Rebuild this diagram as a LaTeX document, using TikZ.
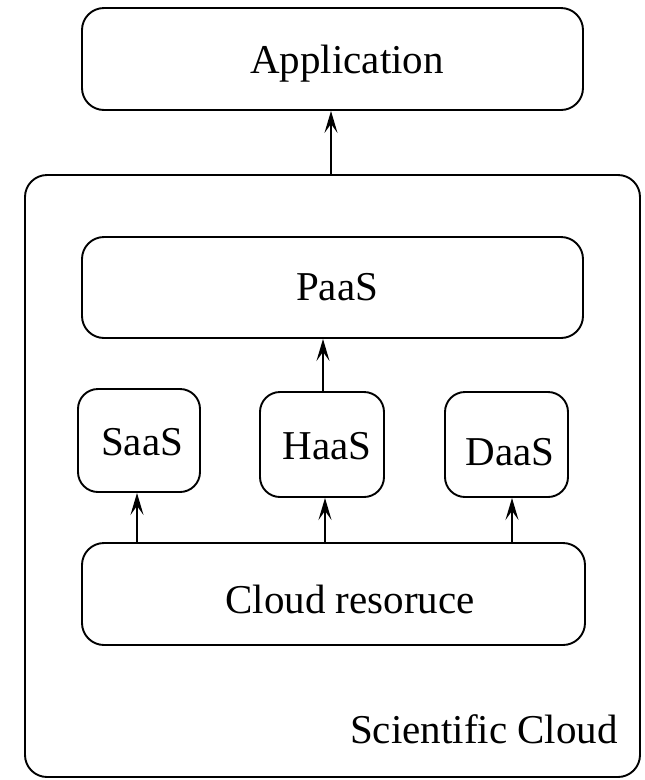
\documentclass[tikz,border=0pt]{standalone}
\usepackage{fontspec}
\setmainfont{Liberation Serif}
\usetikzlibrary{arrows.meta}
\begin{document}
\begin{tikzpicture}[x=1pt,y=-1pt,
  box/.style={draw,line width=1.9pt,rounded corners=22pt,inner sep=0pt},
  lbl/.style={font=\fontsize{41}{41}\selectfont,anchor=base,inner sep=0pt},
  arr/.style={line width=1.9pt,-{Stealth[length=22pt,width=13pt,inset=9pt]}}]
\useasboundingbox (0,0) rectangle (645,780);
\node[box,minimum width=501pt,minimum height=102pt] (app) at (332.5,59) {};
\node[box,minimum width=615pt,minimum height=602pt] (sci) at (332.5,476) {};
\node[box,minimum width=501pt,minimum height=101pt] (paas) at (332.5,287.5) {};
\node[box,rounded corners=20pt,minimum width=122pt,minimum height=103pt] (saas) at (139,440.5) {};
\node[box,rounded corners=20pt,minimum width=124pt,minimum height=105pt] (haas) at (322,444.5) {};
\node[box,rounded corners=20pt,minimum width=123pt,minimum height=105pt] (daas) at (506.5,444.5) {};
\node[box,minimum width=503pt,minimum height=102pt] (cloud) at (333.5,594) {};
\node[lbl] (tapp) at (347,73) {Application};
\node[lbl] (tpaas) at (337,300) {PaaS};
\node[lbl] (tsaas) at (142,455) {SaaS};
\node[lbl] (thaas) at (327,459) {HaaS};
\node[lbl] (tdaas) at (510,465) {DaaS};
\node[lbl] (tcloud) at (350,613) {Cloud resoruce};
\node[lbl] (tsci) at (484,743) {Scientific Cloud};
\draw[arr] (sci.north -| 331,0) -- (app.south -| 331,0);
\draw[arr] (haas.north -| 323,0) -- (paas.south -| 323,0);
\draw[arr] (cloud.north -| 137,0) -- (saas.south -| 137,0);
\draw[arr] (cloud.north -| 325,0) -- (haas.south -| 325,0);
\draw[arr] (cloud.north -| 512,0) -- (daas.south -| 512,0);
\end{tikzpicture}
\end{document}
